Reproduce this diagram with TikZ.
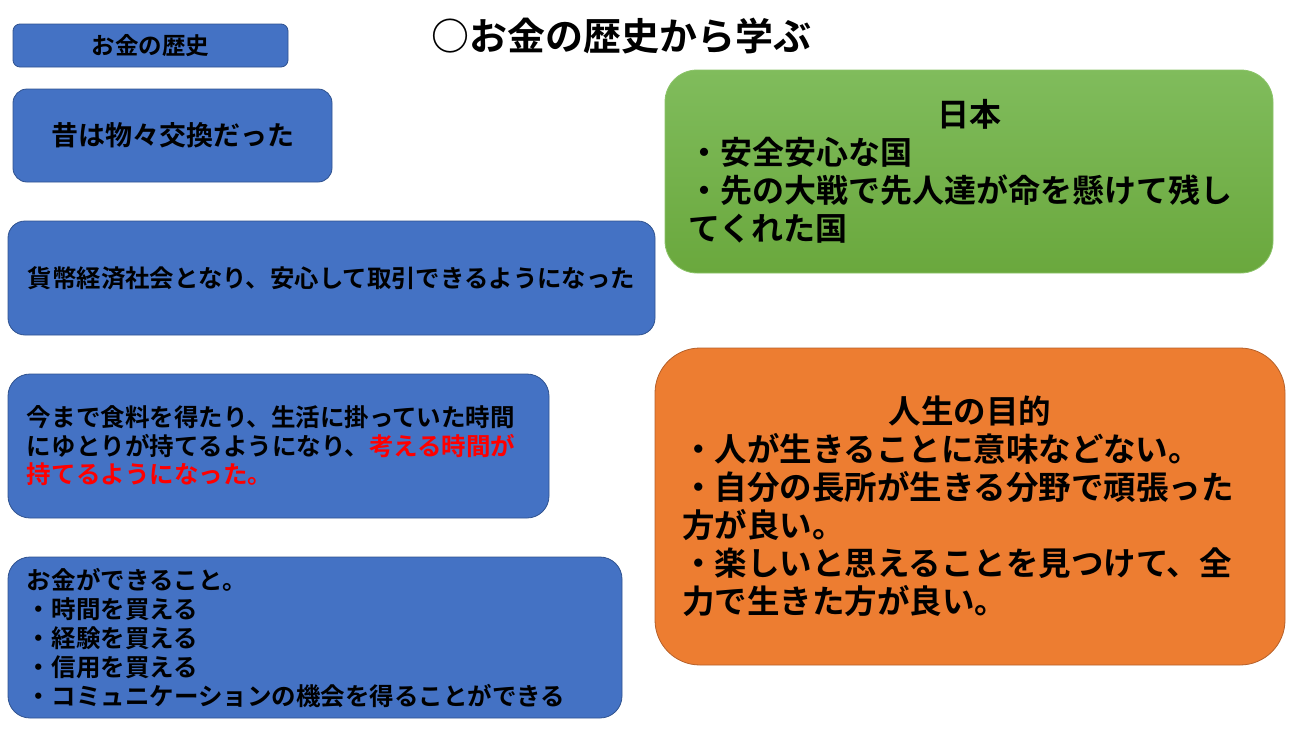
\documentclass[tikz,border=0pt]{standalone}
\usepackage{fontspec}
\setmainfont{Noto Sans CJK JP}[BoldFont=* Bold]
\definecolor{bluefill}{HTML}{4472C4}
\definecolor{blueline}{HTML}{2F528F}
\definecolor{greentop}{HTML}{80BC5C}
\definecolor{greenbot}{HTML}{6AA83D}
\definecolor{greenline}{HTML}{8CC46A}
\definecolor{orangefill}{HTML}{ED7D31}
\definecolor{orangeline}{HTML}{B5602A}
\definecolor{redtext}{HTML}{FF0000}
\tikzset{
  box/.style={draw, line width=0.8pt, inner ysep=0pt, text=black},
  bluebox/.style={box, fill=bluefill, draw=blueline},
  greenbox/.style={box, top color=greentop, bottom color=greenbot, draw=greenline},
  orangebox/.style={box, fill=orangefill, draw=orangeline},
}
\begin{document}
\begin{tikzpicture}[x=1pt,y=-1pt]
\useasboundingbox (0,0) rectangle (1300,731);
\node[font=\bfseries\fontsize{38}{42}\selectfont] (title) at (621,36) {○お金の歴史から学ぶ};

\node[bluebox, rounded corners=7pt, minimum width=275pt, minimum height=43pt,
  font=\bfseries\fontsize{23.5}{26}\selectfont] (hist) at (150.5,45.5) {お金の歴史};

\node[bluebox, rounded corners=14pt, minimum width=319pt, minimum height=93pt,
  font=\bfseries\fontsize{27}{32}\selectfont] (barter) at (172.5,135.5) {昔は物々交換だった};

\node[bluebox, rounded corners=17pt, minimum width=647pt, minimum height=114pt,
  font=\bfseries\fontsize{24.4}{28.5}\selectfont] (money) at (331.5,278) {貨幣経済社会となり、安心して取引できるようになった};

\node[bluebox, rounded corners=22pt, minimum width=541pt, minimum height=144pt,
  inner xsep=19pt, text width=503pt, align=left,
  font=\bfseries\fontsize{24.5}{28.5}\selectfont] (time) at (278.5,446)
  {今まで食料を得たり、生活に掛っていた時間\\にゆとりが持てるようになり、\textcolor{redtext}{考える時間が}\\\textcolor{redtext}{持てるようになった。}};

\node[bluebox, rounded corners=22pt, minimum width=614pt, minimum height=161pt,
  inner xsep=19pt, text width=576pt, align=left,
  font=\bfseries\fontsize{24.5}{29}\selectfont] (can) at (315,637.5)
  {お金ができること。\\・時間を買える\\・経験を買える\\・信用を買える\\・コミュニケーションの機会を得ることができる};

\node[greenbox, rounded corners=32pt, minimum width=608pt, minimum height=203pt,
  inner xsep=23pt, text width=562pt, align=left,
  font=\bfseries\fontsize{32}{38}\selectfont] (japan) at (969,171.5)
  {\makebox[562pt]{日本}\\・安全安心な国\\・先の大戦で先人達が命を懸けて残し\\てくれた国};

\node[orangebox, rounded corners=45pt, minimum width=630pt, minimum height=317pt,
  inner xsep=27pt, text width=576pt, align=left,
  font=\bfseries\fontsize{32.5}{38}\selectfont] (life) at (970,506.5)
  {\makebox[576pt]{人生の目的}\\・人が生きることに意味などない。\\・自分の長所が生きる分野で頑張った\\方が良い。\\・楽しいと思えることを見つけて、全\\力で生きた方が良い。};
\end{tikzpicture}
\end{document}
